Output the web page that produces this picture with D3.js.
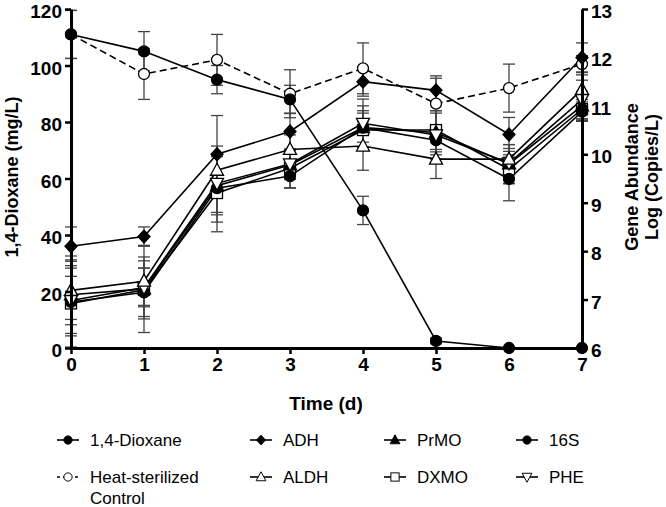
<!DOCTYPE html>
<html><head><meta charset="utf-8">
<script src="https://cdn.jsdelivr.net/npm/d3@7"></script>
<style>body{margin:0;background:#fff}svg{display:block}text{font-family:"Liberation Sans",Arial,sans-serif}</style>
</head><body><div id="chart"></div>
<script>
const days = [0,1,2,3,4,5,6,7];
const leftTicks = [0,20,40,60,80,100,120];
const rightTicks = [6,7,8,9,10,11,12,13];
// left axis (mg/L)
const dioxane = [111,105,95,88,48.7,2.5,0,0];
const dioxaneErr = [8.5,7,5,5,5,1,0,0];
const control = [111,97,102,90,99,86.5,92,100.5];
const controlErr = [8.5,9,9,8.5,9,9,8.5,3];
// right axis (log copies/L)
const ADH = [8.10,8.30,10.0,10.47,11.5,11.32,10.41,12.0];
const ADHErr = [0.4,0.2,0.8,0.38,0.3,0.3,0.35,0.3];
const ALDH = [7.19,7.38,9.67,10.1,10.17,9.9,9.9,11.34];
const ALDHErr = [0.6,0.5,0.5,0.3,0.5,0.4,0.3,0.3];
const PrMO = [7.1,7.22,9.35,9.78,10.55,10.45,9.8,11.0];
const PrMOErr = [0.8,0.9,0.6,0.3,0.45,0.4,0.4,0.3];
const DXMO = [6.92,7.2,9.2,9.71,10.5,10.5,9.69,10.93];
const DXMOErr = [0.9,0.6,0.8,0.4,0.4,0.4,0.3,0.2];
const S16 = [6.95,7.15,9.3,9.55,10.55,10.29,9.49,10.88];
const S16Err = [0.7,0.5,0.7,0.25,0.3,0.3,0.45,0.2];
const PHE = [6.98,7.25,9.4,9.8,10.64,10.4,9.82,11.13];
const PHEErr = [0.5,0.4,0.6,0.3,0.5,0.5,0.3,0.4];

const W=666,H=507;
const svg=d3.select("#chart").append("svg").attr("width",W).attr("height",H);
const x=d3.scaleLinear().domain([0,7]).range([71,582]);
const yL=d3.scaleLinear().domain([0,120]).range([348,9]);
const yR=d3.scaleLinear().domain([6,13]).range([348,9]);

const series=[
 {name:"Heat-sterilized Control",v:control,e:controlErr,y:yL,shape:"circle",fill:"#fff",dash:"7,4"},
 {name:"1,4-Dioxane",v:dioxane,e:dioxaneErr,y:yL,shape:"circle",fill:"#000"},
 {name:"DXMO",v:DXMO,e:DXMOErr,y:yR,shape:"square",fill:"#fff"},
 {name:"16S",v:S16,e:S16Err,y:yR,shape:"circle",fill:"#000"},
 {name:"PrMO",v:PrMO,e:PrMOErr,y:yR,shape:"triangle",fill:"#000"},
 {name:"PHE",v:PHE,e:PHEErr,y:yR,shape:"triangledown",fill:"#fff"},
 {name:"ALDH",v:ALDH,e:ALDHErr,y:yR,shape:"triangle",fill:"#fff"},
 {name:"ADH",v:ADH,e:ADHErr,y:yR,shape:"diamond",fill:"#000"}
];

function marker(g,shape,fill,cx,cy){
  let el;
  if(shape==="circle"){el=g.append("circle").attr("cx",cx).attr("cy",cy).attr("r",5.5);}
  else if(shape==="square"){el=g.append("rect").attr("x",cx-5.5).attr("y",cy-5.5).attr("width",11).attr("height",11);}
  else if(shape==="diamond"){el=g.append("path").attr("d",`M${cx},${cy-6.5}L${cx+6},${cy}L${cx},${cy+6.5}L${cx-6},${cy}Z`);}
  else if(shape==="triangle"){el=g.append("path").attr("d",`M${cx},${cy-7}L${cx+6.5},${cy+5}L${cx-6.5},${cy+5}Z`);}
  else {el=g.append("path").attr("d",`M${cx},${cy+7}L${cx+6.5},${cy-5}L${cx-6.5},${cy-5}Z`);}
  el.attr("fill",fill).attr("stroke","#000").attr("stroke-width",1.3);
}

const gE=svg.append("g"), gL=svg.append("g"), gM=svg.append("g");
series.forEach(s=>{
  days.forEach((d,i)=>{
    if(s.e[i]>0){
      const top=s.y(Math.min(s.v[i]+s.e[i],s.y.domain()[1]));
      const bot=s.y(Math.max(s.v[i]-s.e[i],s.y.domain()[0]));
      const cx=x(d);
      gE.append("line").attr("x1",cx).attr("x2",cx).attr("y1",top).attr("y2",bot).attr("stroke","#444").attr("stroke-width",1.3);
      [top,bot].forEach(yy=>gE.append("line").attr("x1",cx-6).attr("x2",cx+6).attr("y1",yy).attr("y2",yy).attr("stroke","#444").attr("stroke-width",1.3));
    }
  });
  const line=d3.line().x((v,i)=>x(days[i])).y(v=>s.y(v));
  gL.append("path").attr("d",line(s.v)).attr("fill","none").attr("stroke","#000").attr("stroke-width",1.6).attr("stroke-dasharray",s.dash||null);
});
series.forEach(s=>days.forEach((d,i)=>marker(gM,s.shape,s.fill,x(d),s.y(s.v[i]))));

// axes
const fontAx="bold 19px 'Liberation Sans', Arial, sans-serif";
function styleAxis(g,vert){
  g.select(".domain").attr("stroke","#000").attr("stroke-width",3);
  g.selectAll(".tick line").attr("stroke","#000").attr("stroke-width",2.5);
  g.selectAll(".tick text").style("font",fontAx).attr("fill","#000");
  if(vert) g.selectAll(".tick text").attr("dy","0.45em");
}
const fmt=d3.format("d");
const ax=svg.append("g").attr("transform","translate(0,348)").call(d3.axisBottom(x).tickValues(days).tickFormat(fmt).tickSize(6).tickSizeOuter(0).tickPadding(4));
styleAxis(ax,false);
const al=svg.append("g").attr("transform","translate(71,0)").call(d3.axisLeft(yL).tickValues(leftTicks).tickFormat(fmt).tickSize(6).tickSizeOuter(0).tickPadding(3));
styleAxis(al,true);
const ar=svg.append("g").attr("transform","translate(582,0)").call(d3.axisRight(yR).tickValues(rightTicks).tickFormat(fmt).tickSize(6).tickSizeOuter(0).tickPadding(3));
styleAxis(ar,true);

svg.append("text").attr("x",326).attr("y",410).attr("text-anchor","middle").style("font","bold 19px 'Liberation Sans', Arial, sans-serif").text("Time (d)");
svg.append("text").attr("transform","translate(18,177) rotate(-90)").attr("text-anchor","middle").style("font","bold 18px 'Liberation Sans', Arial, sans-serif").text("1,4-Dioxane (mg/L)");
const rt=svg.append("text").attr("transform","translate(638,177) rotate(-90)").attr("text-anchor","middle").style("font","bold 18px 'Liberation Sans', Arial, sans-serif");
rt.append("tspan").attr("x",0).attr("dy",0).text("Gene Abundance");
rt.append("tspan").attr("x",0).attr("dy",20).text("Log (Copies/L)");

// legend
const legendItems=[
 {name:["1,4-Dioxane"],s:"1,4-Dioxane",col:0,row:0},
 {name:["ADH"],s:"ADH",col:1,row:0},
 {name:["PrMO"],s:"PrMO",col:2,row:0},
 {name:["16S"],s:"16S",col:3,row:0},
 {name:["Heat-sterilized","Control"],s:"Heat-sterilized Control",col:0,row:1},
 {name:["ALDH"],s:"ALDH",col:1,row:1},
 {name:["DXMO"],s:"DXMO",col:2,row:1},
 {name:["PHE"],s:"PHE",col:3,row:1}
];
const colX=[68,261,395,527], rowY=[440,477];
const gLeg=svg.append("g");
legendItems.forEach(it=>{
  const s=series.find(q=>q.name===it.s);
  const cx=colX[it.col], cy=rowY[it.row];
  gLeg.append("line").attr("x1",cx-11).attr("x2",cx+11).attr("y1",cy).attr("y2",cy).attr("stroke","#000").attr("stroke-width",1.6).attr("stroke-dasharray",s.dash?"3,3":null);
  const g=gLeg.append("g");
  marker(g,s.shape,s.fill,cx,cy);
  g.attr("transform",`translate(${cx},${cy}) scale(0.75) translate(${-cx},${-cy})`);
  const t=gLeg.append("text").attr("x",cx+22).attr("y",cy+6).style("font","17px 'Liberation Sans', Arial, sans-serif").attr("fill","#000");
  it.name.forEach((n,k)=>t.append("tspan").attr("x",cx+22).attr("dy",k===0?0:21).text(n));
});
</script></body></html>
